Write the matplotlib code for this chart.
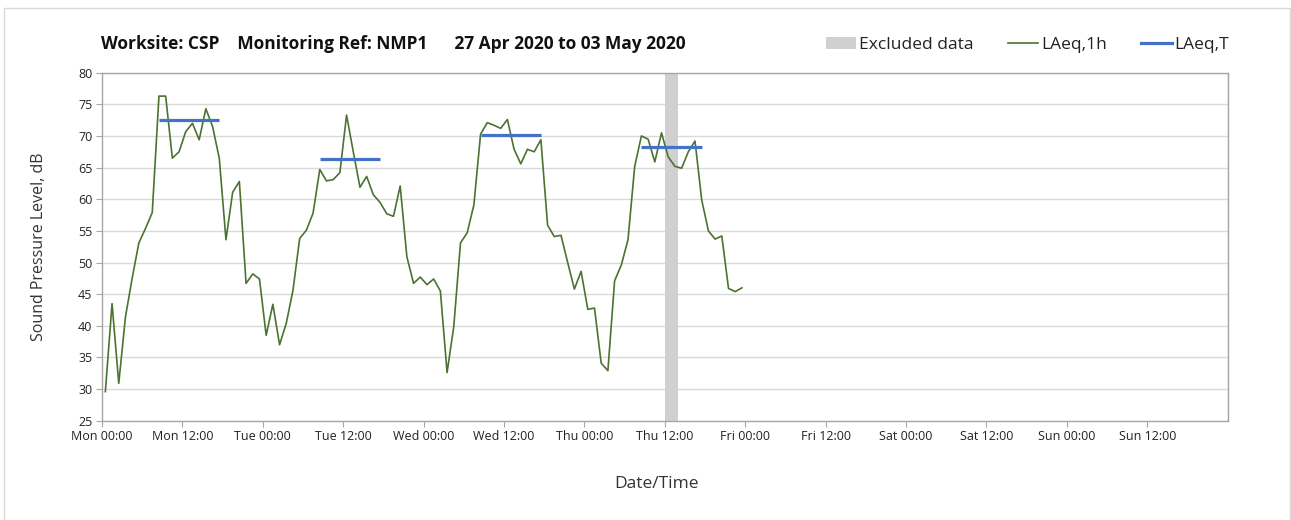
import matplotlib
matplotlib.use("Agg")
import matplotlib.pyplot as plt
from matplotlib.patches import Rectangle, Patch
from matplotlib.lines import Line2D
import numpy as np

plt.rcParams['font.family'] = ['Open Sans', 'DejaVu Sans']

# Hourly LAeq,1h values, Mon 00:00 onward (hour index)
laeq_1h = [29.6, 43.5, 30.9, 41.4, 47.5, 53.1, 55.4, 57.9, 76.3, 76.3, 66.5, 67.5,
           70.7, 72.0, 69.4, 74.3, 71.5, 66.5, 53.6, 61.1, 62.8, 46.7, 48.2, 47.4,
           38.5, 43.4, 37.0, 40.4, 45.6, 53.8, 55.1, 57.8, 64.7, 62.9, 63.1, 64.2,
           73.3, 67.5, 61.9, 63.6, 60.7, 59.5, 57.7, 57.3, 62.1, 50.9, 46.7, 47.7,
           46.5, 47.4, 45.5, 32.6, 39.9, 53.1, 54.7, 59.1, 70.3, 72.1, 71.7, 71.2,
           72.6, 67.9, 65.6, 67.9, 67.5, 69.4, 55.9, 54.1, 54.3, 50.0, 45.8, 48.6,
           42.6, 42.8, 34.1, 32.9, 47.1, 49.6, 53.6, 65.2, 70.0, 69.5, 65.9, 70.5,
           66.7, 65.2, 64.9, 67.5, 69.2, 59.9, 55.0, 53.7, 54.2, 45.9, 45.4, 46.0]
hours = np.arange(len(laeq_1h))

# Daily LAeq,T over the 08:00-18:00 period (day index -> level)
laeq_t_days = [0, 1, 2, 3]
laeq_t_values = [72.5, 66.4, 70.1, 68.2]
laeq_t_start_hour = 8
laeq_t_end_hour = 17

# Excluded data period (hours from Mon 00:00)
excluded_start = 84
excluded_end = 86

tick_labels = ["Mon 00:00", "Mon 12:00", "Tue 00:00", "Tue 12:00", "Wed 00:00",
               "Wed 12:00", "Thu 00:00", "Thu 12:00", "Fri 00:00", "Fri 12:00",
               "Sat 00:00", "Sat 12:00", "Sun 00:00", "Sun 12:00"]

W, H = 1291, 520
fig = plt.figure(figsize=(W / 100, H / 100), dpi=100)
fig.patches.append(Rectangle((4 / W, -0.01), (1290 - 4) / W, (H - 7.5) / H + 0.01,
                             transform=fig.transFigure, fill=False,
                             edgecolor='#d9d9d9', linewidth=1.0))

ax_left, ax_right, ax_top, ax_bot = 102, 1227.7, 72.7, 420.7
ax = fig.add_axes([ax_left / W, (H - ax_bot) / H, (ax_right - ax_left) / W, (ax_bot - ax_top) / H])

green = '#4a7330'
blue = '#4472c4'
band = '#d0d0d0'

ax.axvspan(excluded_start, excluded_end, color=band, linewidth=0, zorder=1)
ax.plot(hours + 0.5, laeq_1h, color=green, linewidth=1.2, zorder=3)
for d, v in zip(laeq_t_days, laeq_t_values):
    x0 = d * 24 + laeq_t_start_hour + 0.5
    x1 = d * 24 + laeq_t_end_hour + 0.5
    ax.plot([x0, x1], [v, v], color=blue, linewidth=2.3, solid_capstyle='butt', zorder=4)

ax.set_xlim(0, 168)
ax.set_ylim(25, 80)
ax.set_yticks(np.arange(25, 81, 5))
ax.set_xticks(np.arange(0, 168, 12))
ax.set_xticklabels(tick_labels)
ax.set_xticks(np.arange(0, 169, 24), minor=True)

ax.grid(axis='y', which='major', color='#d9d9d9', linewidth=1.0, zorder=0)
ax.grid(axis='x', which='minor', color='#d9d9d9', linewidth=1.0, zorder=0)
ax.set_axisbelow(True)

for s in ax.spines.values():
    s.set_color('#a6a6a6')
    s.set_linewidth(1.0)

ax.tick_params(axis='both', which='major', direction='out', length=4, color='#a6a6a6',
               labelsize=9, labelcolor='#222222', pad=3)
ax.tick_params(axis='x', which='minor', length=0)

ax.set_ylabel("Sound Pressure Level, dB", fontsize=11.5, color='#333333')
ax.yaxis.set_label_coords((47 - ax_left) / (ax_right - ax_left), 0.5)
ax.set_xlabel("Date/Time", fontsize=12.5, color='#333333')
ax.xaxis.set_label_coords((656 - ax_left) / (ax_right - ax_left), -(484 - ax_bot) / (ax_bot - ax_top))
ax.xaxis.label.set_va('center')

fig.text(101 / W, 1 - 44 / H, "Worksite: CSP    Monitoring Ref: NMP1      27 Apr 2020 to 03 May 2020",
         fontsize=12.5, fontweight='bold', color='#111111', va='center', ha='left')

handles = [Patch(facecolor=band, edgecolor='none'),
           Line2D([0], [0], color=green, linewidth=1.2),
           Line2D([0], [0], color=blue, linewidth=2.3)]
fig.legend(handles, ["Excluded data", "LAeq,1h", "LAeq,T"], loc='center right',
           bbox_to_anchor=(1236 / W, 1 - 45 / H), ncol=3, frameon=False,
           fontsize=12.5, handlelength=1.75, handletextpad=0.15, columnspacing=2.0,
           labelcolor='#222222', borderaxespad=0)

fig.savefig("out.png", dpi=100)
